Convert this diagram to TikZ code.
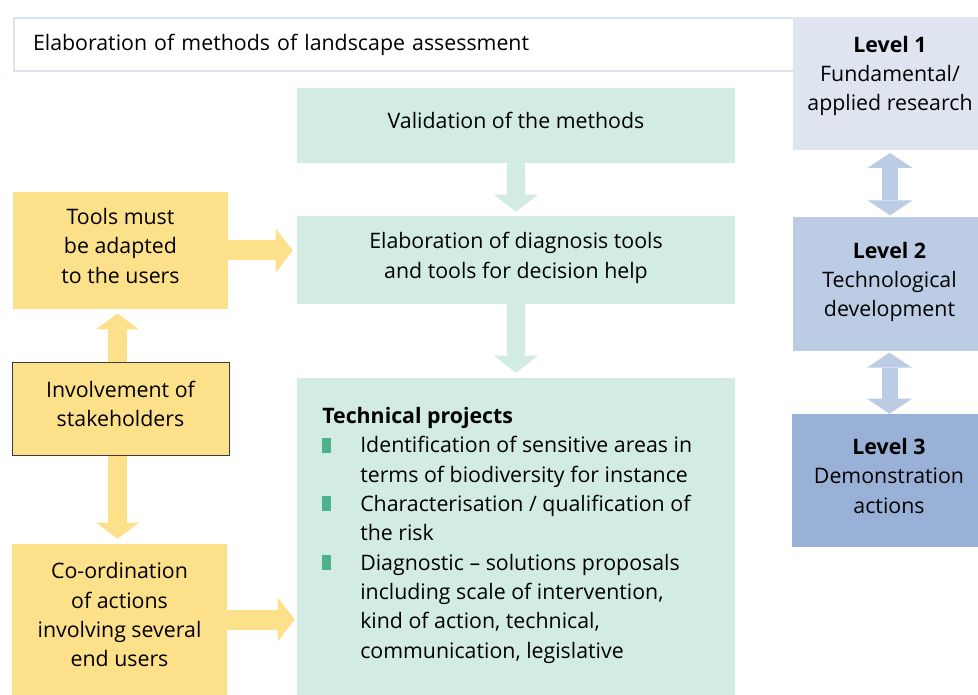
\documentclass[tikz,border=0pt]{standalone}
\usepackage{fontspec}
\setmainfont{Open Sans}
\usepackage{xcolor}
\usepackage{tikz}
\usetikzlibrary{arrows.meta}
\definecolor{userYellow}{HTML}{FDE08A}
\definecolor{methodGreen}{HTML}{D3ECE3}
\definecolor{bulletGreen}{HTML}{4DB38C}
\definecolor{levelOne}{HTML}{DEE5F0}
\definecolor{levelTwo}{HTML}{BCCCE5}
\definecolor{levelThree}{HTML}{9AB1D7}
\definecolor{levelArrow}{HTML}{BBCCE4}
\definecolor{headLine}{HTML}{DAE3F0}
\definecolor{stakeLine}{HTML}{3C3C3C}
\newcommand{\techbullet}{\makebox[28.5pt][l]{\textcolor{bulletGreen}{\rule{6.75pt}{11.25pt}}}}
\newcommand{\techindent}{\hspace*{28.5pt}}
\tikzset{
  boxtext/.style={font=\fontsize{16}{22}\selectfont, align=center, inner sep=0pt, execute at end node={\rule[-7pt]{0pt}{0pt}}},
  headbox/.style={rectangle, draw=headLine, line width=1.5pt, fill=white, font=\fontsize{16}{22}\selectfont, align=left, text width=561.75pt, inner xsep=14.25pt, inner ysep=0pt, minimum height=39.75pt},
  methodbox/.style={rectangle, fill=methodGreen, boxtext, minimum width=328.5pt, minimum height=#1},
  userbox/.style={rectangle, fill=userYellow, boxtext, minimum width=161.25pt, minimum height=#1},
  levelbox/.style 2 args={rectangle, fill=#1, boxtext, minimum width=145pt, minimum height=#2},
  techlist/.style={font=\fontsize{16}{22}\selectfont, align=left, inner sep=0pt, anchor=base west},
  % --- thick block arrows ---
  methodarrow/.style={-{Triangle[length=12.75pt, width=33pt, line width=0pt]}, line width=13.5pt, draw=methodGreen},
  userarrow/.style={-{Triangle[length=12.75pt, width=33pt, line width=0pt]}, line width=15pt, draw=userYellow},
  userdouble/.style={{Triangle[length=12pt, width=32pt, line width=0pt]}-{Triangle[length=12pt, width=32pt, line width=0pt]}, line width=14.25pt, draw=userYellow},
  leveldouble/.style={{Triangle[length=11.25pt, width=33.75pt, line width=0pt]}-{Triangle[length=11.25pt, width=33.75pt, line width=0pt]}, line width=12pt, draw=levelArrow},
}

\begin{document}
\begin{tikzpicture}[x=0.75pt,y=-0.75pt]
  \useasboundingbox (0,0) rectangle (978,695);
  \clip (0,0) rectangle (978,695);

  \node[headbox, anchor=north west] (head) at (13,17) {Elaboration of methods of landscape assessment};

  % levels on the right
  \node[levelbox={levelOne}{99.75pt}, execute at end node={\rule[-15pt]{0pt}{0pt}}] (lvlone) at (890,83.5) {\textbf{Level 1}\\Fundamental/\\applied research};
  \node[levelbox={levelTwo}{100.5pt}] (lvltwo) at (889.5,284) {\textbf{Level 2}\\Technological\\development};
  \node[levelbox={levelThree}{99.75pt}] (lvlthree) at (889,480.5) {\textbf{Level 3}\\Demonstration\\actions};
  \draw[leveldouble, shorten <=2pt, shorten >=1pt] (lvlone.south) -- (lvlone.south |- lvltwo.north);
  \draw[leveldouble, shorten <=1pt] (lvltwo.south) -- (lvltwo.south |- lvlthree.north);

  % method column
  \node[methodbox=56.25pt] (valid) at (516,125.5) {Validation of the methods};
  \node[methodbox=66pt] (elab) at (516,260) {Elaboration of diagnosis tools\\and tools for decision help};
  \node[methodbox=237.75pt] (tech) at (516,536.5) {};
  \node[techlist] (techtext) at (322,658) {\textbf{Technical projects}\\
    \techbullet Identification of sensitive areas in\\
    \techindent terms of biodiversity for instance\\
    \techbullet Characterisation / qualification of\\
    \techindent the risk\\
    \techbullet Diagnostic -- solutions proposals\\
    \techindent including scale of intervention,\\
    \techindent kind of action, technical,\\
    \techindent communication, legislative};
  \draw[methodarrow, shorten >=3pt] (valid.south) -- (elab.north);
  \draw[methodarrow, shorten >=3.75pt] (elab.south) -- (tech.north);

  % users column
  \node[userbox=87.75pt] (tools) at (120.5,250.5) {Tools must\\be adapted\\to the users};
  \node[userbox=113.25pt] (coord) at (119.5,619.5) {Co-ordination\\of actions\\involving several\\end users};
  \draw[userdouble, shorten <=3pt, shorten >=3.75pt] ([xshift=-2.25pt]tools.south) -- ([xshift=-1.5pt]coord.north);
  \node[userbox=69.75pt, draw=stakeLine, line width=0.75pt, minimum width=162.75pt] (involve) at (120.5,408.5) {Involvement of\\stakeholders};
  \draw[userarrow, shorten >=3pt] (tools.east) -- (tools.east -| elab.west);
  \draw[userarrow, shorten >=1.5pt] (coord.east) -- (coord.east -| tech.west);
\end{tikzpicture}
\end{document}
